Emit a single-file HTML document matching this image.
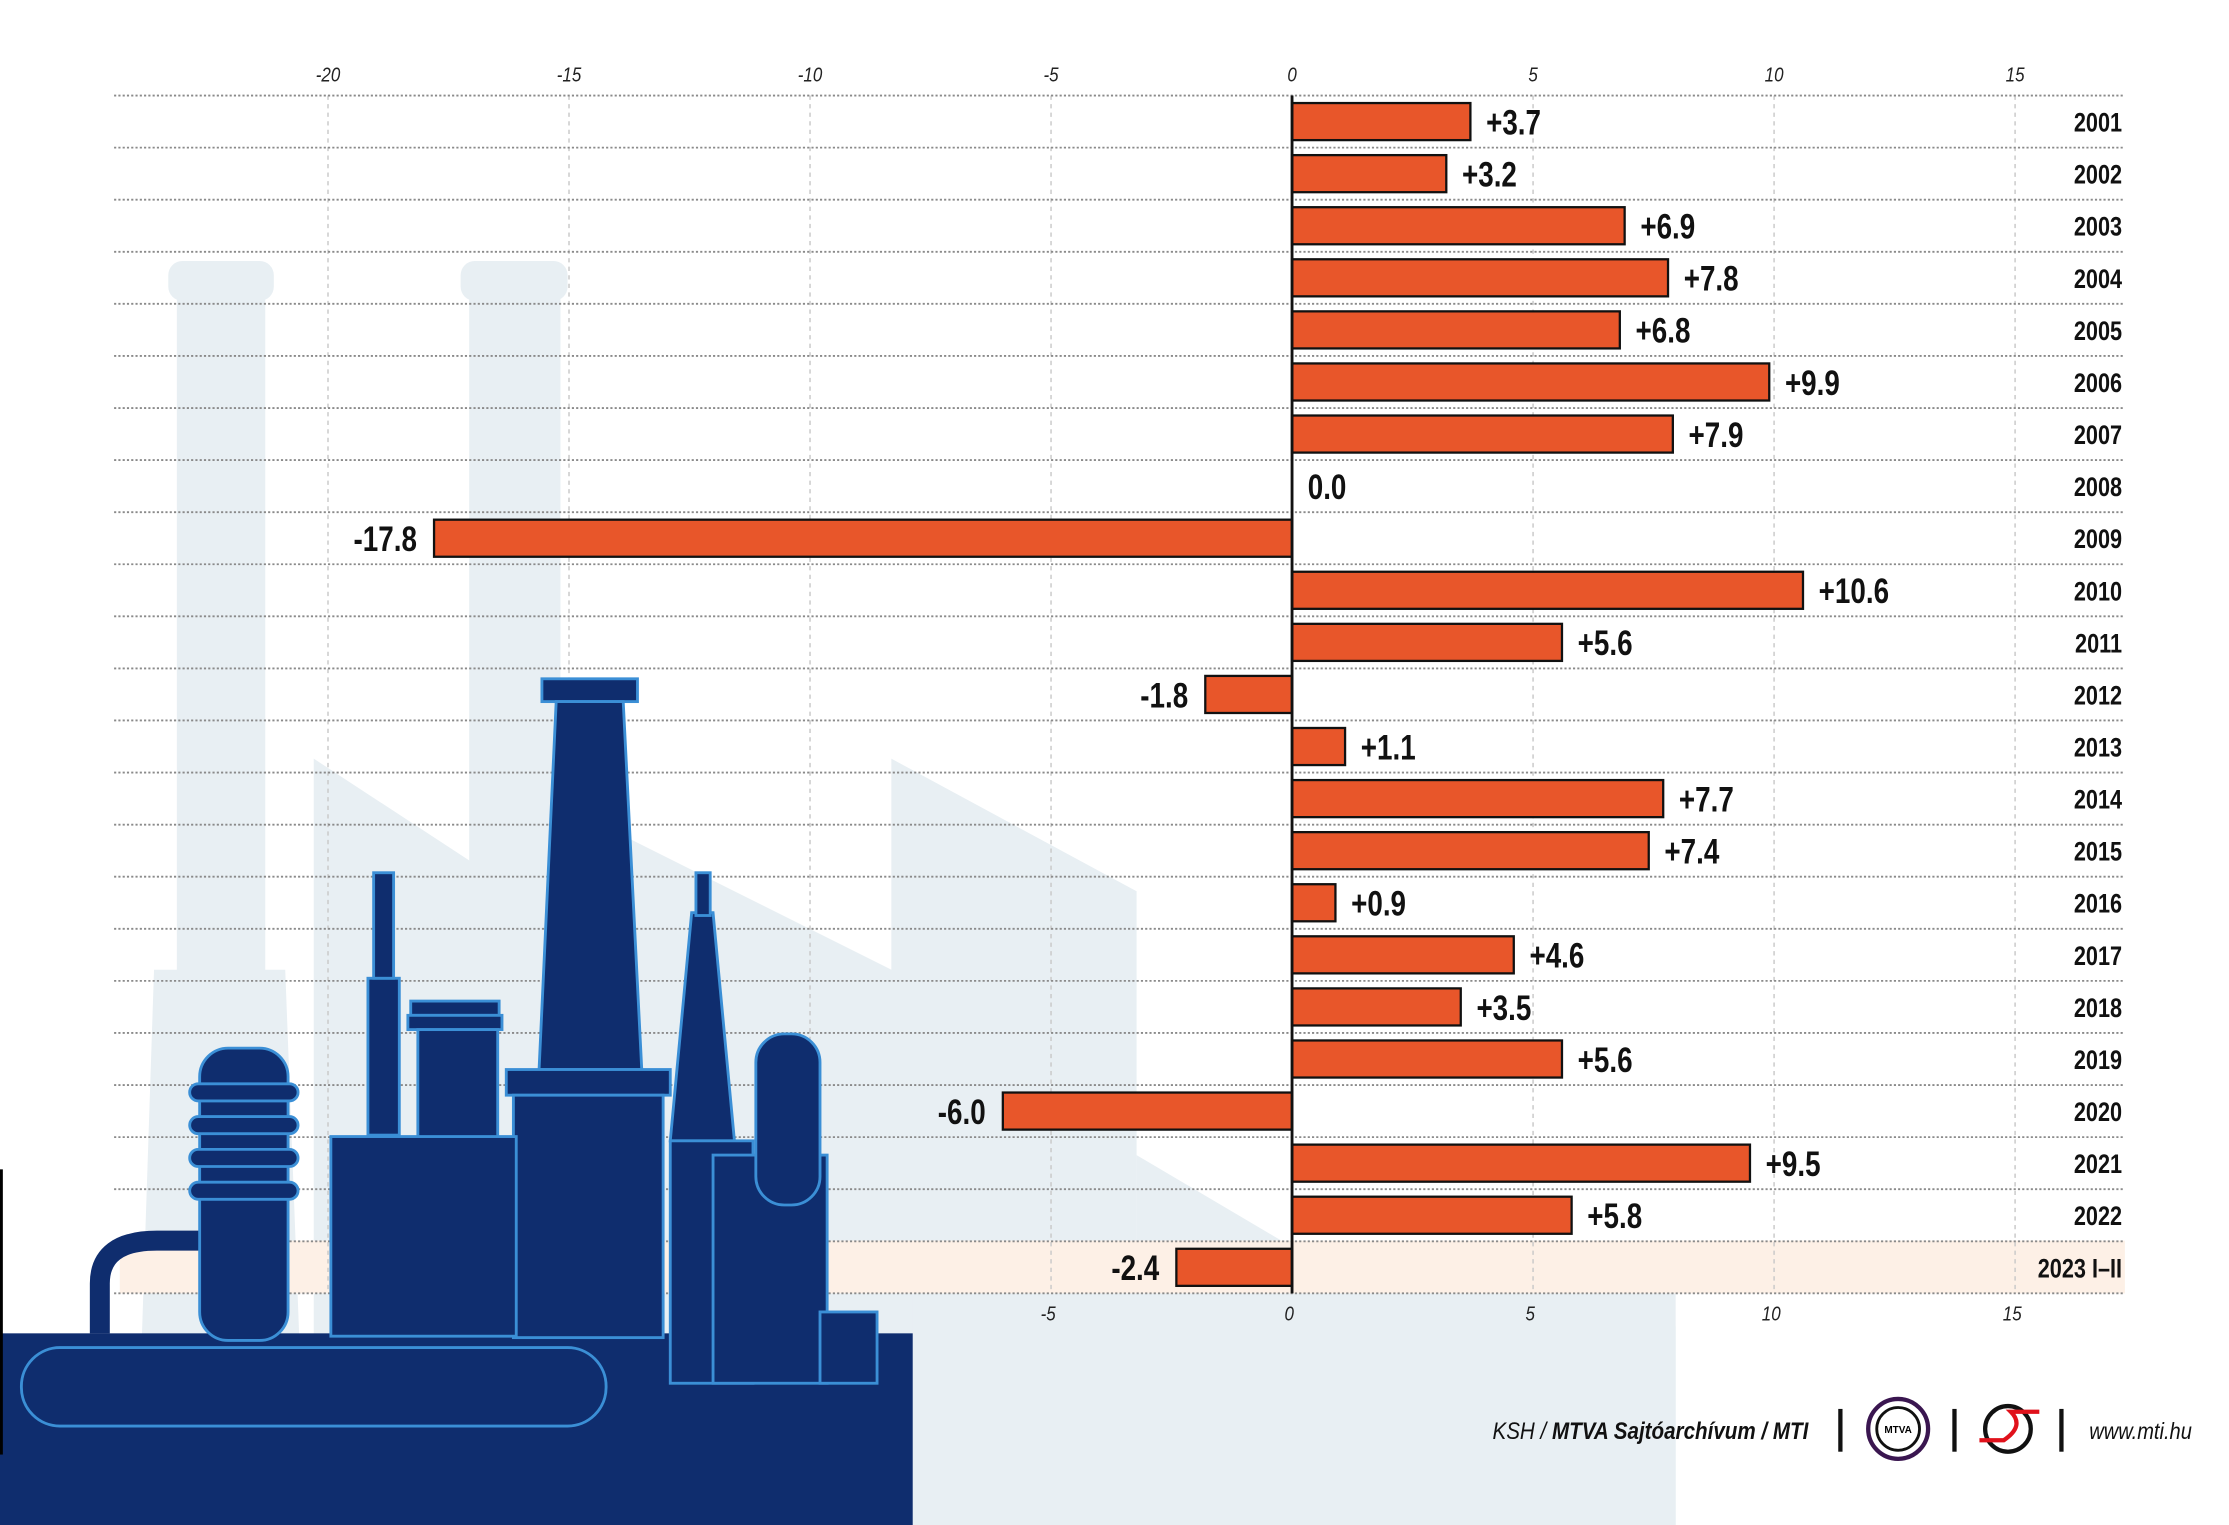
<!DOCTYPE html>
<html><head><meta charset="utf-8"><style>
html,body{margin:0;padding:0;background:#fff}
svg{display:block}
text{font-family:"Liberation Sans Narrow","Liberation Sans",sans-serif}
</style></head><body>
<svg id="chart" width="2229" height="1525" viewBox="0 0 1563 1069.4" preserveAspectRatio="none" xmlns="http://www.w3.org/2000/svg">
<g id="bg">
  <g fill="#e8eff3">
    <rect x="118" y="183" width="74" height="28" rx="10"/>
    <rect x="124" y="205" width="62" height="870"/>
    <polygon points="108,680 200,680 215,1073 95,1073"/>
    <rect x="323" y="183" width="75" height="28" rx="10"/>
    <rect x="329" y="205" width="64" height="870"/>
    <polygon points="220,1073 220,532 385,640 385,560 625,680 625,532 797,625 797,1073"/>
    <rect x="640" y="880" width="535" height="193"/>
    <polygon points="797,810 1000,930 1175,930 1175,1073 797,1073"/>
  </g>
  <rect x="84" y="870" width="1406" height="37" fill="#fdf0e6"/>
</g>
<g id="grid"></g>
<g fill="#0f2d6e" stroke="#3b8fd6" stroke-width="2">
  <rect x="0" y="935" width="640" height="140" stroke="none"/>
  <rect x="0" y="820" width="2" height="200" fill="#000" stroke="none"/>
  <rect x="380" y="476" width="67" height="16"/>
  <polygon points="390,492 437,492 450,750 378,750"/>
  <rect x="355" y="750" width="115" height="18"/>
  <rect x="360" y="768" width="105" height="170"/>
  <rect x="288" y="702" width="62" height="10"/>
  <rect x="286" y="712" width="66" height="10"/>
  <rect x="293" y="722" width="56" height="90"/>
  <rect x="258" y="686" width="22" height="110"/>
  <rect x="262" y="612" width="14" height="74"/>
  <rect x="232" y="797" width="130" height="140"/>
  <path d="M70,935 L70,900 Q70,870 110,870 L145,870" fill="none" stroke-width="14" stroke="#0f2d6e"/>
  <rect x="140" y="735" width="62" height="205" rx="20"/>
  <rect x="133" y="760" width="76" height="12" rx="6"/>
  <rect x="133" y="783" width="76" height="12" rx="6"/>
  <rect x="133" y="806" width="76" height="12" rx="6"/>
  <rect x="133" y="829" width="76" height="12" rx="6"/>
  <polygon points="485,640 500,640 515,800 470,800"/>
  <rect x="488" y="612" width="10" height="30"/>
  <rect x="470" y="800" width="58" height="170"/>
  <rect x="500" y="810" width="80" height="160"/>
  <rect x="530" y="725" width="45" height="120" rx="20"/>
  <rect x="575" y="920" width="40" height="50"/>
  <rect x="15" y="945" width="410" height="55" rx="27"/>
</g>
<g id="bars"></g>
<g id="footer">
  <text transform="translate(1268,1009) scale(0.85,1)" x="0" y="0" font-size="17" font-weight="bold" font-style="italic" text-anchor="end" fill="#111"><tspan font-weight="normal">KSH / </tspan>MTVA Sajtóarchívum / MTI</text>
  <rect x="1289" y="988" width="3" height="30" fill="#111"/>
  <circle cx="1331" cy="1002" r="21" fill="none" stroke="#3a1650" stroke-width="3"/>
  <circle cx="1331" cy="1002" r="15" fill="none" stroke="#111" stroke-width="2"/>
  <text x="1331" y="1005" font-size="7" text-anchor="middle" font-weight="bold">MTVA</text>
  <rect x="1369" y="988" width="3" height="30" fill="#111"/>
  <circle cx="1408" cy="1002" r="16" fill="none" stroke="#111" stroke-width="3"/>
  <path d="M1388,1010 L1405,1010 Q1420,1000 1410,990 L1430,990" fill="none" stroke="#e0111b" stroke-width="3"/>
  <rect x="1444" y="988" width="3" height="30" fill="#111"/>
  <text transform="translate(1465,1009) scale(0.88,1)" x="0" y="0" font-size="16" font-style="italic" fill="#111">www.mti.hu</text>
</g>
</svg>
<script>
const years = ["2001","2002","2003","2004","2005","2006","2007","2008","2009","2010","2011","2012","2013","2014","2015","2016","2017","2018","2019","2020","2021","2022","2023 I–II"];
const values = [3.7,3.2,6.9,7.8,6.8,9.9,7.9,0.0,-17.8,10.6,5.6,-1.8,1.1,7.7,7.4,0.9,4.6,3.5,5.6,-6.0,9.5,5.8,-2.4];
const topTicks = [-20,-15,-10,-5,0,5,10,15];
const bottomTicks = [-5,0,5,10,15];
const NS = "http://www.w3.org/2000/svg";
const x = v => 906 + v * 33.8;
const top0 = 67, rowH = 36.52;
const y = i => top0 + rowH * i;
function mk(tag, attrs, parent){const e=document.createElementNS(NS,tag);for(const k in attrs)e.setAttribute(k,attrs[k]);parent.appendChild(e);return e;}
const grid = document.getElementById('grid'), bars = document.getElementById('bars');
for (const t of topTicks) {
  const l = mk('line',{x1:x(t),x2:x(t),y1:67,y2:907,stroke:'#c8c8c8','stroke-width':1,'stroke-dasharray':'3 3'},grid);
  
  
  const tx = mk('text',{transform:'translate(' + x(t) + ',57) scale(0.85,1)',x:0,y:0,'font-size':14,'font-style':'italic','text-anchor':'middle',fill:'#222'},grid);
  tx.textContent = t;
  
  
}
for (const t of bottomTicks) {
  const tx = mk('text',{transform:'translate(' + (x(t)-2) + ',926) scale(0.85,1)',x:0,y:0,'font-size':14,'font-style':'italic','text-anchor':'middle',fill:'#222'},grid);
  tx.textContent = t;
  
  
}
for (let i = 0; i <= years.length; i++) {
  const l = mk('line',{x1:80,x2:1490,y1:y(i),y2:y(i),stroke:'#8a8a8a','stroke-width':1.3,'stroke-dasharray':'1.5 1.5'},grid);
  
  
}
years.forEach((yr, i) => {
  const v = values[i], cy = y(i) + rowH/2;
  const x0 = Math.min(x(0), x(v)), w = Math.abs(x(v) - x(0));
  if (w > 0) {
    const r = mk('rect',{x:x0,y:cy-13,width:w,height:26,fill:'#e8562a',stroke:'#111','stroke-width':1.6},bars);
    
    
  }
  const lbl = v > 0 ? '+' + v.toFixed(1) : v.toFixed(1);
  const lx = v >= 0 ? x(v) + 11 : x(v) - 12;
  const t = mk('text',{transform:'translate(' + lx + ',' + (cy + 9) + ') scale(0.78,1)',x:0,y:0,'font-size':25,'font-weight':'bold','text-anchor': v >= 0 ? 'start' : 'end',fill:'#111'},bars);
  t.textContent = lbl;
  
  
  const yl = mk('text',{transform:'translate(1488,' + (cy + 7) + ') scale(0.8,1)',x:0,y:0,'font-size':19,'font-weight':'bold','text-anchor':'end',fill:'#111'},bars);
  yl.textContent = yr;
  
  
});
const axis = mk('line',{x1:x(0),x2:x(0),y1:67,y2:907,stroke:'#111','stroke-width':2},bars);


</script>
</body></html>
